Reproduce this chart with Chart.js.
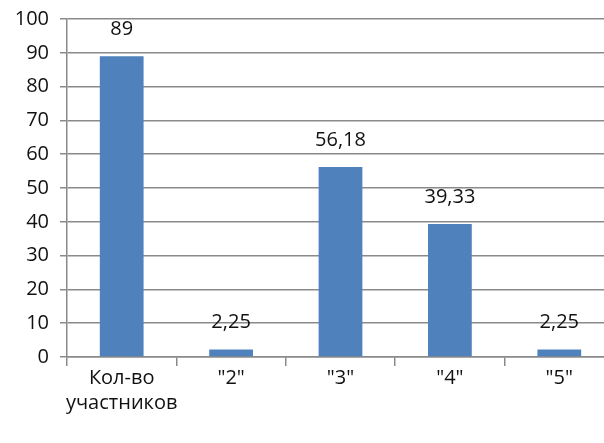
<!DOCTYPE html>
<html>
<head>
<meta charset="utf-8">
<script src="https://cdn.jsdelivr.net/npm/chart.js@4.4.1/dist/chart.umd.min.js"></script>
<style>
html,body{margin:0;padding:0;background:#fff;overflow:hidden;}
#wrap{position:relative;width:616px;height:443px;}
</style>
</head>
<body>
<div id="wrap"><canvas id="c"></canvas></div>
<script>
const categories = [["Кол-во","участников"], "\"2\"", "\"3\"", "\"4\"", "\"5\""];
const values = [89, 2.25, 56.18, 39.33, 2.25];
const yMin = 0, yMax = 100, yStep = 10;

const FONT = "'Open Sans', sans-serif";
const GRID = '#8a8a8a';
const TEXT = '#111111';

const valueLabels = {
  id: 'valueLabels',
  afterDatasetsDraw(chart) {
    const ctx = chart.ctx;
    const meta = chart.getDatasetMeta(0);
    ctx.save();
    ctx.font = '20px ' + FONT;
    ctx.fillStyle = TEXT;
    ctx.textAlign = 'center';
    ctx.textBaseline = 'middle';
    meta.data.forEach((bar, i) => {
      const txt = String(values[i]).replace('.', ',');
      ctx.fillText(txt, bar.x, bar.y - 27);
    });
    ctx.restore();
  }
};

new Chart(document.getElementById('c'), {
  type: 'bar',
  data: {
    labels: categories,
    datasets: [{
      data: values,
      backgroundColor: '#4f81bd',
      borderWidth: 0,
      barPercentage: 0.4,
      categoryPercentage: 1.0
    }]
  },
  options: {
    responsive: true,
    maintainAspectRatio: false,
    animation: false,
    events: [],
    layout: { padding: { top: 19, right: 2, left: 0, bottom: 0 } },
    plugins: { legend: { display: false }, tooltip: { enabled: false } },
    scales: {
      x: {
        offset: true,
        grid: { display: true, drawOnChartArea: false, drawTicks: true, tickLength: 9, color: GRID, lineWidth: 1.5, offset: true },
        border: { display: true, color: GRID, width: 1.5 },
        ticks: { color: TEXT, font: { family: FONT, size: 20, lineHeight: 1.25 }, padding: 0, maxRotation: 0, autoSkip: false },
        afterFit(scale) { scale.height = 86; scale.paddingLeft = 0; scale.paddingRight = 0; }
      },
      y: {
        min: yMin, max: yMax,
        grid: { color: GRID, lineWidth: 1.5, tickLength: 7, drawTicks: true },
        border: { display: true, color: GRID, width: 1.5 },
        ticks: { stepSize: yStep, color: TEXT, font: { family: FONT, size: 20 }, padding: 11 },
        afterFit(scale) { scale.width = 67; scale.paddingTop = 0; scale.paddingBottom = 0; }
      }
    }
  },
  plugins: [valueLabels]
});
</script>
</body>
</html>
